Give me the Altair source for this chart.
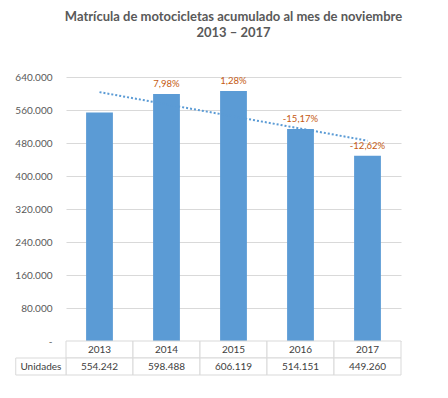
import altair as alt
import pandas as pd

# ---- data ----
years = ["2013", "2014", "2015", "2016", "2017"]
unidades = [554242, 598488, 606119, 514151, 449260]
y_ticks = [0, 80000, 160000, 240000, 320000, 400000, 480000, 560000, 640000]
title_lines = ["Matrícula de motocicletas acumulado al mes de noviembre", "2013 – 2017"]
row_label = "Unidades"

FONT = "Lato"


def miles(v):
    return f"{v:,}".replace(",", ".")


pct_labels = [""] + [
    f"{(unidades[i] / unidades[i - 1] - 1) * 100:.2f}%".replace(".", ",")
    for i in range(1, len(unidades))
]

bars_df = pd.DataFrame(
    {
        "year": years,
        "yr": [int(y) for y in years],
        "value": unidades,
        "pct": pct_labels,
    }
)

# table cells (column index based)
cells = []
for i, (y, v) in enumerate(zip(years, unidades)):
    cells.append({"row": "año", "x0": i, "x1": i + 1, "label": y})
    cells.append({"row": "unid", "x0": i, "x1": i + 1, "label": miles(v)})
cells.append({"row": "unid", "x0": -0.75, "x1": 0, "label": row_label})
table_df = pd.DataFrame(cells)

xband = alt.Scale(domain=years, paddingInner=0.6, paddingOuter=0.3)
yscale = alt.Scale(domain=[0, 640000], nice=False)


def y_axis():
    return alt.Axis(
        values=y_ticks,
        tickCount=len(y_ticks),
        labelExpr="datum.value == 0 ? '-' : replace(format(datum.value, ',.0f'), /,/g, '.')",
        labelOverlap=False,
        grid=True,
        gridColor="#D9D9D9",
        gridWidth=1,
        domain=False,
        ticks=False,
        labelPadding=14,
        labelFont=FONT,
        labelFontSize=10,
        labelColor="#595959",
        title=None,
    )


base = alt.Chart(bars_df)

bars = base.mark_bar(color="#5B9BD5").encode(
    x=alt.X("year:N", scale=xband, axis=None),
    y=alt.Y("value:Q", scale=yscale, axis=y_axis()),
)

pct = base.mark_text(
    baseline="bottom", dy=-5, color="#C55A11", font=FONT, fontSize=9.5
).encode(
    x=alt.X("year:N", scale=xband, axis=None),
    y=alt.Y("value:Q", scale=yscale, axis=y_axis()),
    text="pct:N",
)

trend = (
    base.transform_regression("yr", "value")
    .transform_calculate(year="toString(datum.yr)")
    .mark_line(color="#5B9BD5", strokeDash=[2, 2], strokeWidth=2)
    .encode(
        x=alt.X("year:N", scale=xband, axis=None),
        y=alt.Y("value:Q", scale=yscale, axis=y_axis()),
    )
)

main = alt.layer(bars, trend, pct)

xq = alt.Scale(domain=[0, 5], nice=False, zero=False)
yrow = alt.Scale(domain=["año", "unid"], range=[264, 298], paddingInner=0, paddingOuter=0)

tbase = alt.Chart(table_df)
table_cells = tbase.mark_rect(fill="white", stroke="#D9D9D9", strokeWidth=1).encode(
    x=alt.X("x0:Q", scale=xq, axis=None),
    x2="x1:Q",
    y=alt.Y("row:N", scale=yrow, axis=None),
)
table_text = (
    tbase.transform_calculate(xm="(datum.x0 + datum.x1) / 2")
    .mark_text(font=FONT, fontSize=10, color="#404040")
    .encode(
        x=alt.X("xm:Q", scale=xq, axis=None),
        y=alt.Y("row:N", scale=yrow, axis=None),
        text="label:N",
    )
)
table = alt.layer(table_cells, table_text)

chart = (
    alt.layer(main, table)
    .resolve_scale(x="independent", y="independent")
    .properties(
        width=335,
        height=264,
        padding={"left": 6, "top": 3, "right": 5, "bottom": 5},
        title=alt.TitleParams(
            text=title_lines,
            font=FONT,
            fontSize=13,
            fontWeight="bold",
            color="#595959",
            anchor="middle",
            lineHeight=16,
            offset=32,
        ),
    )
    .configure_view(stroke=None)
)

chart.save("out.html", embed_options={"renderer": "svg", "actions": False})
